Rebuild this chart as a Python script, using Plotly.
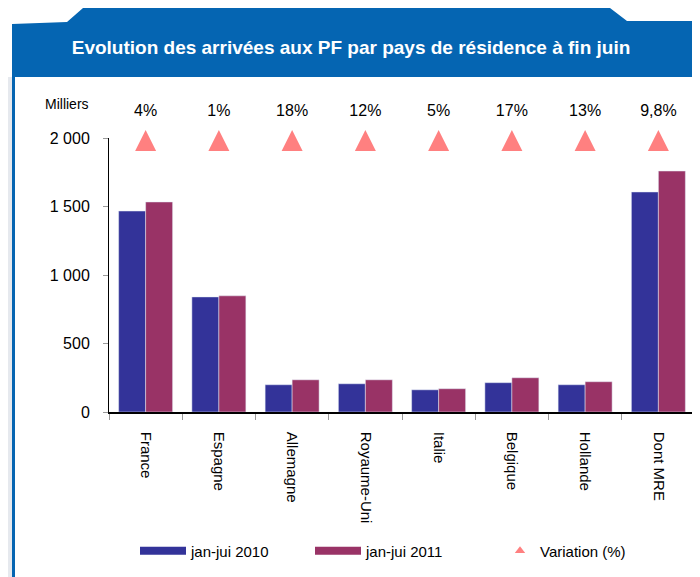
import plotly.graph_objects as go

# ---- data ----
categories = ["France", "Espagne", "Allemagne", "Royaume-Uni", "Italie", "Belgique", "Hollande", "Dont MRE"]
arrivals_2010 = [1467, 840, 199, 206, 162, 214, 199, 1606]
arrivals_2011 = [1533, 848, 235, 235, 170, 250, 221, 1759]
variation_pct = [4, 1, 18, 12, 5, 17, 13, 9.8]
y_tickvals = [0, 500, 1000, 1500, 2000]

series_names = ["jan-jui 2010", "jan-jui 2011", "Variation (%)"]
COL_2010 = "#333399"
COL_2011 = "#993366"
COL_VAR = "#FF8080"
HEADER_BLUE = "#0565B2"
FONT = "Liberation Sans, Arial, sans-serif"

# ---- layout geometry ----
# page body has an 8px margin; figure is sized so it ends at the window edge.
OFF = 8
W, H = 700 - OFF, 577 - OFF
PLOT_LEFT, PLOT_RIGHT = 109, 695          # screen px
AXIS_TOP, AXIS_BOTTOM = 138, 412          # screen px of 2000 and 0
AREA_TOP = 95                             # screen px, top of the overlay area
L = PLOT_LEFT - OFF
R = W - (PLOT_RIGHT - OFF)
T = AREA_TOP - OFF
B = H - (AXIS_BOTTOM - OFF)
PW = W - L - R
PH = H - T - B
YMAX = 2000


def px_x(p):
    """screen x -> paper x"""
    return (p - PLOT_LEFT) / PW


def px_y(p):
    """screen y -> paper y"""
    return (AXIS_BOTTOM - p) / PH


TRI_LEVEL = AXIS_BOTTOM - 130      # triangle tip (px above baseline, on overlay axis)
LABEL_LEVEL = AXIS_BOTTOM - 112    # percentage text

var_text = [(f"{v:g}").replace(".", ",") + "%" for v in variation_pct]

fig = go.Figure()
fig.add_trace(go.Bar(x=categories, y=arrivals_2010, marker_color=COL_2010,
                     name=series_names[0], showlegend=False))
fig.add_trace(go.Bar(x=categories, y=arrivals_2011, marker_color=COL_2011,
                     name=series_names[1], showlegend=False))
fig.add_trace(go.Scatter(x=categories, y=[TRI_LEVEL] * len(categories), mode="markers",
                         marker=dict(symbol="arrow-up", size=21, color=COL_VAR, line_width=0),
                         yaxis="y2", cliponaxis=False, showlegend=False, hoverinfo="skip"))
fig.add_trace(go.Scatter(x=categories, y=[LABEL_LEVEL] * len(categories), mode="text",
                         text=var_text, textposition="middle center",
                         textfont=dict(family=FONT, size=16, color="#000000"),
                         yaxis="y2", cliponaxis=False, showlegend=False, hoverinfo="skip"))

# legend entries
fig.add_trace(go.Scatter(x=[None], y=[None], mode="lines", name=series_names[0],
                         line=dict(color=COL_2010, width=8), legend="legend"))
fig.add_trace(go.Scatter(x=[None], y=[None], mode="lines", name=series_names[1],
                         line=dict(color=COL_2011, width=8), legend="legend2"))
fig.add_trace(go.Scatter(x=[None], y=[None], mode="markers", name=series_names[2],
                         marker=dict(symbol="triangle-up", size=9, color=COL_VAR), legend="legend3"))

leg_common = dict(orientation="h", yanchor="middle", xanchor="left", y=px_y(551),
                  font=dict(family=FONT, size=15, color="#000000"),
                  bgcolor="rgba(0,0,0,0)", borderwidth=0)

header_path = (f"M {px_x(12)},{px_y(24)} L {px_x(67)},{px_y(22)} L {px_x(83)},{px_y(OFF)} "
               f"L {px_x(610)},{px_y(OFF)} L {px_x(627)},{px_y(21)} L {px_x(700)},{px_y(21)} "
               f"L {px_x(700)},{px_y(77)} L {px_x(12)},{px_y(77)} Z")

main_domain_top = (AXIS_BOTTOM - AXIS_TOP) / PH

fig.update_layout(
    width=W, height=H,
    margin=dict(l=L, r=R, t=T, b=B, pad=0, autoexpand=False),
    paper_bgcolor="white", plot_bgcolor="rgba(0,0,0,0)",
    separators=", ",
    barmode="group", bargap=0.263, bargroupgap=0,
    font=dict(family=FONT, size=15, color="#000000"),
    title=dict(text="<b>Evolution des arrivées aux PF par pays de résidence à fin juin</b>",
               x=(351 - OFF) / W, xref="container", xanchor="center",
               y=1 - (47 - OFF) / H, yref="container", yanchor="middle",
               font=dict(family=FONT, size=19, color="white")),
    xaxis=dict(showline=True, linecolor="#000000", linewidth=1.5, showgrid=False,
               range=[-0.5, len(categories) - 0.5], automargin=False,
               ticks="outside", tickson="boundaries", ticklen=6, tickcolor="#999999",
               tickangle=90, tickfont=dict(family=FONT, size=15, color="#000000"),
               ticklabelstandoff=15, anchor="y"),
    yaxis=dict(domain=[0, main_domain_top], range=[0, YMAX], showline=True, automargin=False,
               linecolor="#000000", linewidth=1, showgrid=False,
               zeroline=False, ticks="outside", ticklen=5, tickcolor="#999999",
               tickvals=y_tickvals, tickformat=",d",
               tickfont=dict(family=FONT, size=16, color="#000000"), ticklabelstandoff=10),
    yaxis2=dict(domain=[0, 1], range=[0, PH], visible=False, anchor="x", fixedrange=True),
    legend=dict(leg_common, x=px_x(135), itemwidth=46),
    legend2=dict(leg_common, x=px_x(310), itemwidth=46),
    legend3=dict(leg_common, x=px_x(500)),
    shapes=[
        dict(type="path", path=header_path, xref="paper", yref="paper",
             fillcolor=HEADER_BLUE, line_width=0, layer="below"),
        dict(type="rect", xref="paper", yref="paper", x0=px_x(12), x1=px_x(15),
             y0=px_y(77), y1=px_y(577), fillcolor=HEADER_BLUE, line_width=0, layer="below"),
        dict(type="rect", xref="paper", yref="paper", x0=px_x(OFF), x1=px_x(12),
             y0=px_y(77), y1=px_y(577), fillcolor="#E6E9EE", line_width=0, layer="below"),
    ],
    annotations=[
        dict(text="Milliers", xref="paper", yref="paper", x=px_x(67), y=px_y(104),
             xanchor="center", yanchor="middle", showarrow=False,
             font=dict(family=FONT, size=14, color="#000000")),
    ],
)

fig.write_html("out.html")
